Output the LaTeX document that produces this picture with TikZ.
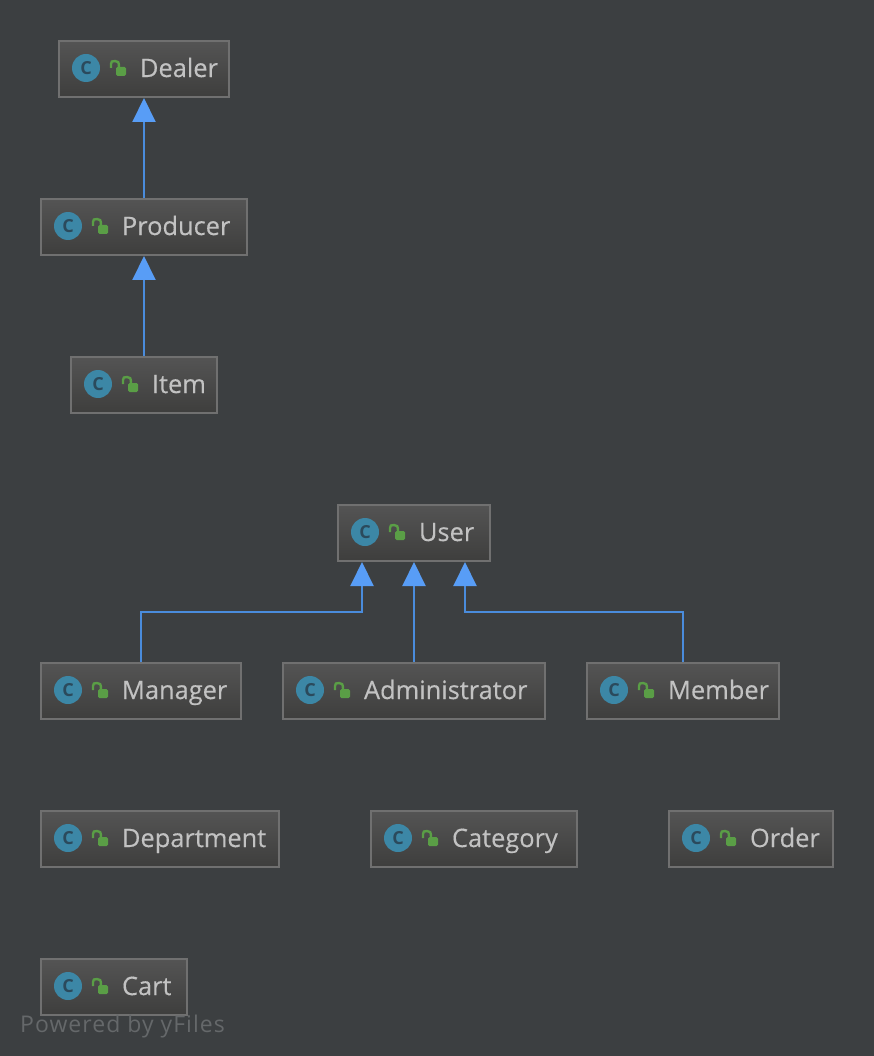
\documentclass[tikz,border=0pt]{standalone}
\usepackage{fontspec}
\setmainfont{Open Sans}
\newfontface\footfont[LetterSpace=4.5]{Open Sans}
\usetikzlibrary{arrows.meta,calc}
\definecolor{bgc}{HTML}{3C3F41}
\definecolor{boxline}{HTML}{707070}
\definecolor{boxtop}{HTML}{545454}
\definecolor{boxbot}{HTML}{3E3E3D}
\definecolor{txtc}{HTML}{C2C2C2}
\definecolor{iconc}{HTML}{3C87A6}
\definecolor{iconl}{HTML}{2B4A5C}
\definecolor{lockc}{HTML}{5A9E46}
\definecolor{arrowc}{HTML}{589DF6}
\definecolor{linec}{HTML}{4A8CDC}
\definecolor{footc}{HTML}{65686A}
\tikzset{
  x=1pt,y=-1pt,
  classbox/.style={draw=boxline,line width=2pt,top color=boxtop,bottom color=boxbot,
    anchor=north west,inner xsep=0pt,inner ysep=0pt,outer sep=1pt,minimum height=56pt,
    text=txtc,font=\fontsize{25.4}{30}\selectfont\addfontfeature{FakeBold=0.3}},
  classicon/.style={circle,fill=iconc,minimum size=28pt,inner sep=0pt,text=iconl,
    font=\fontsize{18}{20}\selectfont\bfseries},
  lockbody/.style={fill=lockc,rounded corners=1.5pt},
  lockarc/.style={draw=lockc,line width=2.4pt},
  inherit/.style={draw=linec,line width=2pt,-{Triangle[width=23pt,length=24pt,fill=arrowc,color=arrowc]}},
}
% #1 name, #2 outer left, #3 outer top, #4 outer width, #5 text
\newcommand{\classnode}[5]{%
  \node[classbox,minimum width=#4pt-2pt] (#1) at (#2,#3)
    {\makebox[\dimexpr #4pt-6pt\relax][l]{\hspace{79pt}\vphantom{Dg}\raisebox{-2pt}[0pt][0pt]{#5}}};
  \node[classicon] (#1-icon) at ($(#1.west)+(28,-1)$) {C};
  \path[lockbody] ($(#1.west)+(58,-2)$) rectangle ($(#1.west)+(68,7)$);
  \draw[lockarc] ($(#1.west)+(53,-1)$) -- ($(#1.west)+(53,-5)$)
     .. controls ($(#1.west)+(53,-7.5)$) and ($(#1.west)+(54,-8)$) .. ($(#1.west)+(57,-8)$)
     .. controls ($(#1.west)+(60,-8)$) and ($(#1.west)+(61,-7)$) .. ($(#1.west)+(61,-2)$);
}
\begin{document}
\begin{tikzpicture}
\useasboundingbox (0,0) rectangle (874,1056);
\fill[bgc] (0,0) rectangle (874,1056);
\classnode{dealer}{58}{40}{172}{Dealer}
\classnode{producer}{40}{198}{208}{Producer}
\classnode{item}{70}{356}{148}{Item}
\classnode{user}{337}{504}{154}{User}
\classnode{manager}{40}{662}{202}{Manager}
\classnode{administrator}{282}{662}{264}{Administrator}
\classnode{member}{586}{662}{194}{Member}
\classnode{department}{40}{810}{240}{Department}
\classnode{category}{370}{810}{208}{Category}
\classnode{order}{668}{810}{166}{Order}
\classnode{cart}{40}{958}{148}{Cart}
\coordinate (userl) at ($(user.south)+(-52,0)$);
\coordinate (userr) at ($(user.south)+(51,0)$);
\coordinate (busl) at ($(userl)+(0,50)$);
\coordinate (busr) at ($(userr)+(0,50)$);
\draw[inherit] (producer.north) -- (dealer.south);
\draw[inherit] (item.north) -- (producer.south);
\draw[inherit] (administrator.north-|user.south) -- (user.south);
\draw[inherit] (manager.north) |- (busl) -- (userl);
\draw[inherit] (member.north) |- (busr) -- (userr);
\node[anchor=west,inner sep=0pt,text=footc,font=\fontsize{23}{26}\selectfont\footfont\fontsize{23}{26}\selectfont] (footer) at (20,1027) {Powered by yFiles};
\end{tikzpicture}
\end{document}
